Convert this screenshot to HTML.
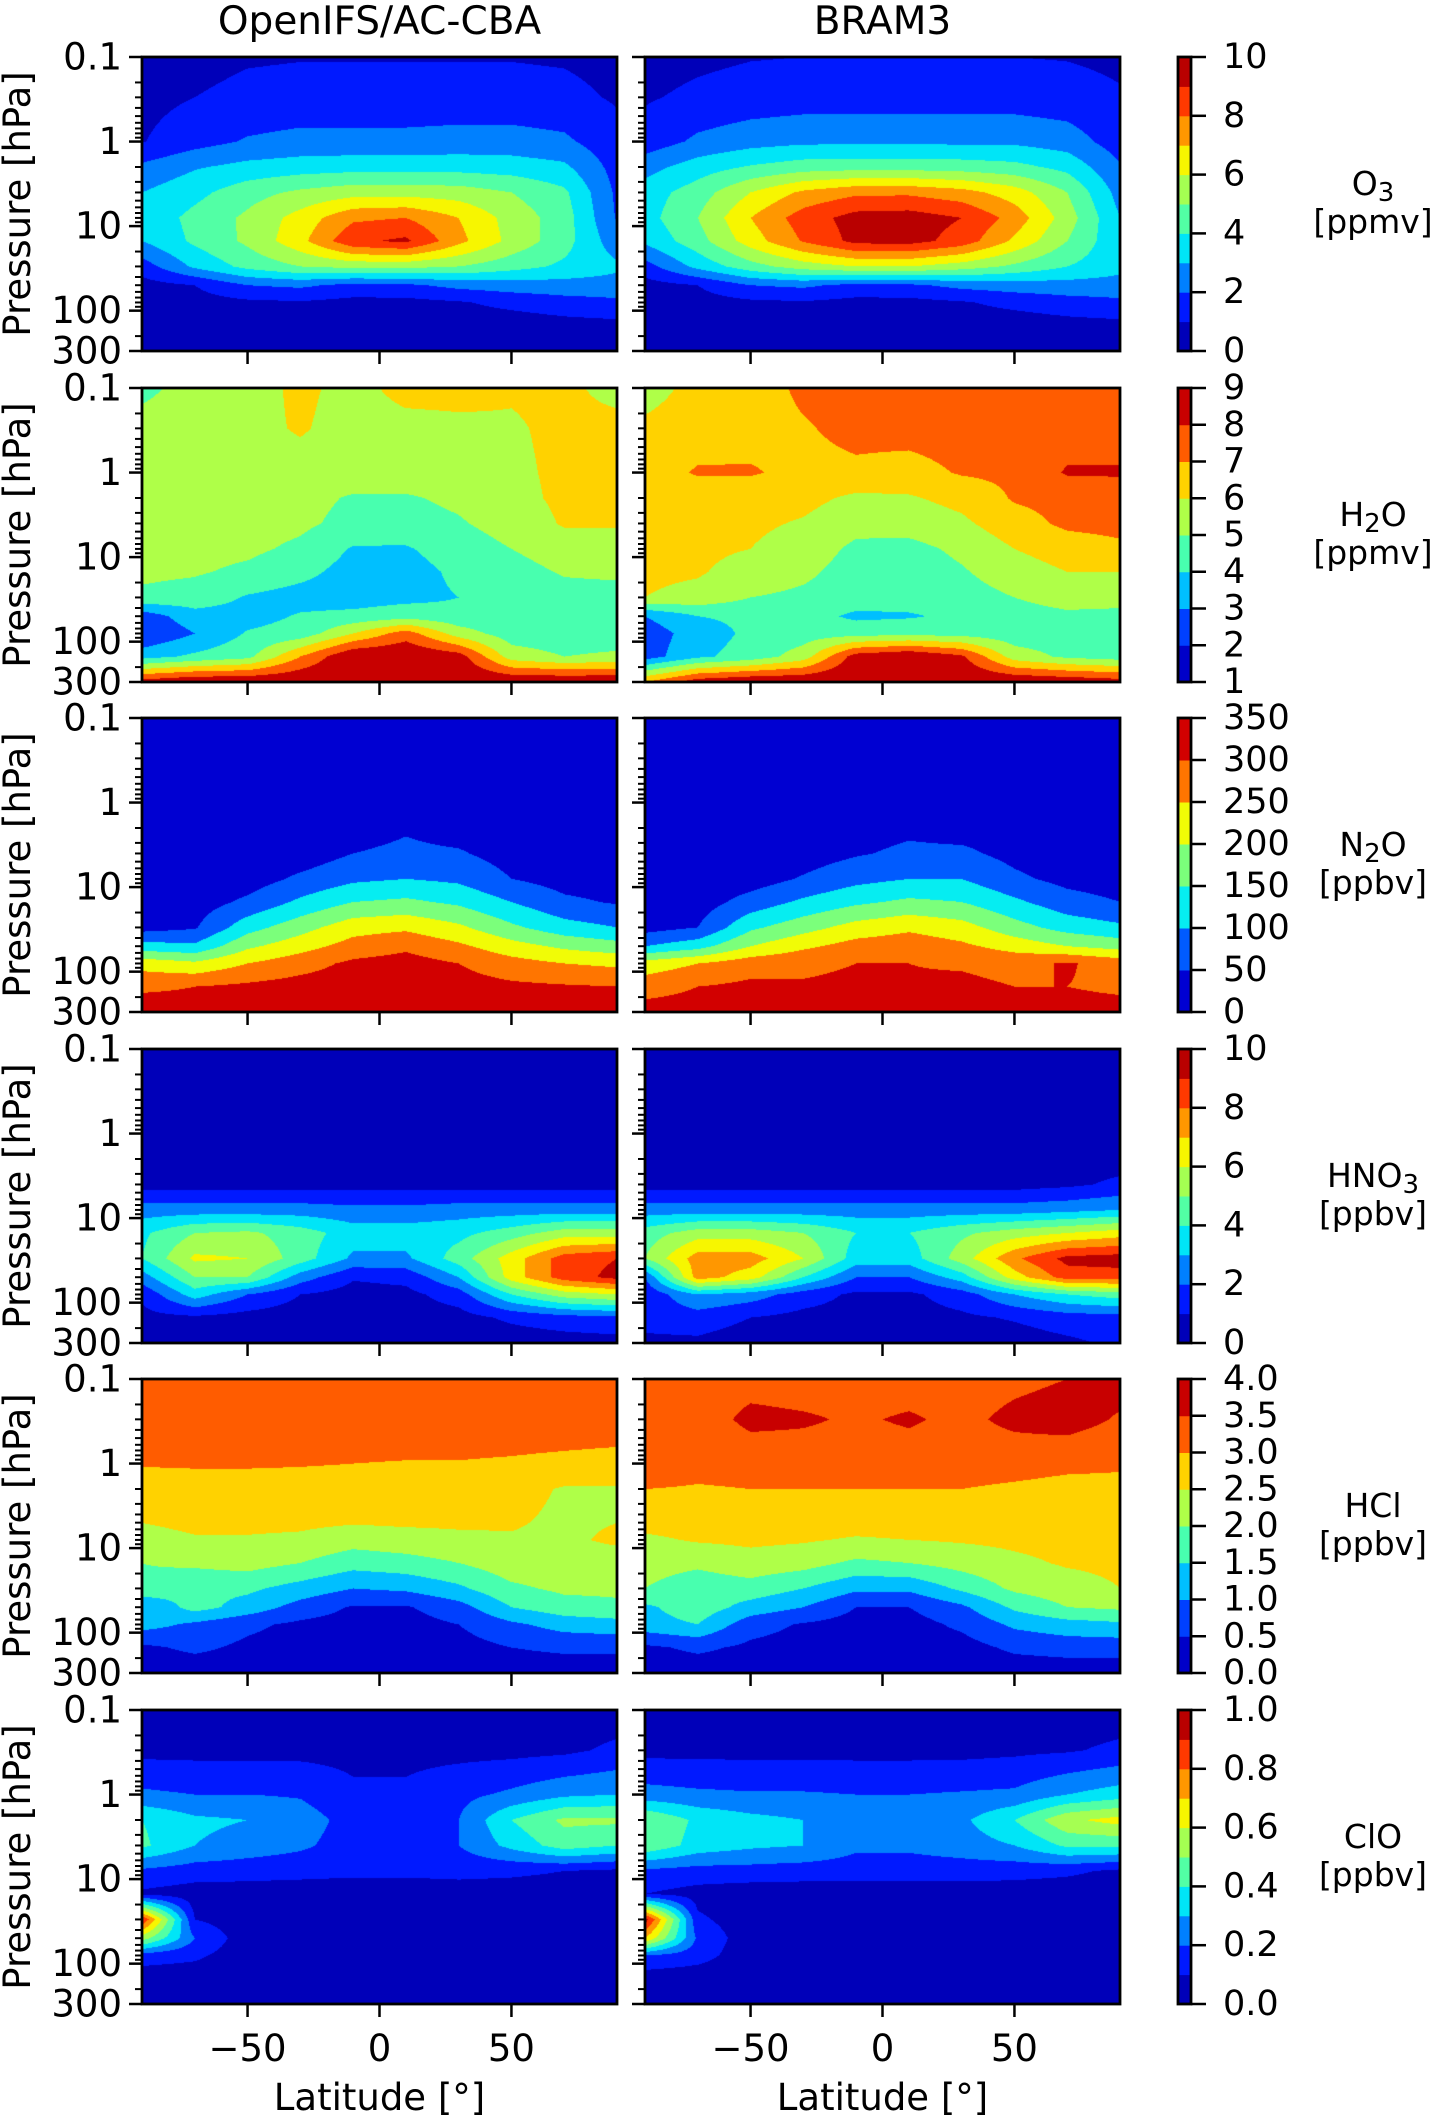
<!DOCTYPE html>
<html><head><meta charset="utf-8"><title>Zonal mean trace gases</title>
<style>
html,body{margin:0;padding:0;background:#fff;}
#wrap{position:relative;width:1434px;height:2118px;overflow:hidden;}
#fields{position:absolute;left:0;top:0;}
#axes{position:absolute;left:0;top:0;}
text{font-family:"DejaVu Sans","Liberation Sans",sans-serif;fill:#000;}
</style></head>
<body>
<div id="wrap">
<canvas id="fields" width="1434" height="2118"></canvas>
<svg id="axes" width="1434" height="2118" xmlns="http://www.w3.org/2000/svg"></svg>
</div>
<script>
// ---- grid categories ----
const lats = [-90,-70,-50,-30,-10,10,30,50,70,90];
const pressures = [0.1,0.3,1,2,4,8,15,30,50,80,150,300];
const columnTitles = ["OpenIFS/AC-CBA","BRAM3"];
const yTickLabels = ["0.1","1","10","100","300"];
const yTickValues = [0.1,1,10,100,300];
const xTickValues = [-50,0,50];
const xTickLabels = ["\u221250","0","50"];

// ---- O3 [ppmv] ----
const o3Levels = [0,1,2,3,4,5,6,7,8,9,10];
const o3Ticks = [0,2,4,6,8,10];
const o3Left = [
[0.5,0.7,0.9,0.95,0.95,0.95,0.95,0.95,0.9,0.7],
[0.7,1.0,1.25,1.35,1.35,1.35,1.35,1.35,1.25,0.9],
[0.95,1.6,2.1,2.3,2.3,2.3,2.4,2.4,2.2,1.3],
[2.2,2.9,3.3,3.5,3.6,3.6,3.6,3.5,3.2,1.6],
[3.0,3.7,4.6,5.2,5.6,5.6,5.5,5.0,4.2,1.8],
[3.3,4.3,5.2,6.4,7.8,8.0,7.0,5.6,4.5,1.9],
[3.0,4.2,5.2,6.7,8.8,9.2,7.3,5.7,4.4,2.4],
[1.5,3.2,4.3,5.0,5.3,5.3,5.0,4.4,3.8,3.2],
[0.6,1.0,2.0,2.2,1.7,1.8,2.3,2.5,2.6,2.6],
[0.5,0.6,0.8,0.9,0.7,0.7,0.9,1.3,1.6,1.8],
[0.4,0.4,0.4,0.4,0.4,0.4,0.4,0.4,0.6,0.7],
[0.3,0.3,0.3,0.3,0.3,0.3,0.3,0.3,0.3,0.3]];
const o3Right = [
[0.6,0.8,0.95,1.0,1.0,1.0,1.0,1.0,0.95,0.8],
[0.9,1.2,1.4,1.5,1.5,1.5,1.5,1.5,1.4,1.1],
[1.4,2.2,2.6,2.8,2.8,2.8,2.8,2.8,2.5,1.5],
[2.6,3.5,4.1,4.5,4.6,4.6,4.5,4.3,3.7,2.1],
[3.5,4.5,6.0,7.2,7.8,7.8,7.4,6.5,5.0,2.6],
[3.6,5.0,7.0,8.5,9.4,9.5,9.0,7.6,5.5,3.0],
[3.2,4.6,6.5,8.1,9.3,9.4,8.6,6.8,5.0,3.2],
[1.6,3.3,4.6,5.5,6.0,6.0,5.5,4.8,4.0,3.3],
[0.6,1.0,2.0,2.2,1.7,1.8,2.3,2.5,2.6,2.6],
[0.5,0.6,0.8,0.9,0.7,0.7,0.9,1.3,1.6,1.8],
[0.4,0.4,0.4,0.4,0.4,0.4,0.4,0.4,0.6,0.7],
[0.3,0.3,0.3,0.3,0.3,0.3,0.3,0.3,0.3,0.3]];

// ---- H2O [ppmv] ----
const h2oLevels = [1,2,3,4,5,6,7,8,9];
const h2oTicks = [1,2,3,4,5,6,7,8,9];
const h2oLeft = [
[4.8,5.3,5.6,6.2,5.7,6.3,6.3,6.1,6.2,5.7],
[5.3,5.4,5.7,6.1,5.6,5.7,5.8,5.9,6.2,6.3],
[5.4,5.5,5.6,5.6,5.5,5.5,5.6,5.8,6.2,6.3],
[5.4,5.5,5.5,5.3,4.9,4.9,5.2,5.7,6.2,6.3],
[5.4,5.4,5.4,5.2,4.7,4.6,4.9,5.4,6.1,6.1],
[5.3,5.3,5.2,4.8,3.9,3.9,4.5,5.0,5.5,5.5],
[5.2,5.1,4.8,4.3,3.6,3.6,4.2,4.6,5.1,5.2],
[4.8,4.6,3.9,3.6,3.5,3.7,4.0,4.4,4.6,4.6],
[2.4,3.6,3.6,4.1,4.3,4.6,4.3,4.3,4.4,4.3],
[2.0,3.0,4.1,4.4,6.0,7.5,5.5,4.5,4.4,4.4],
[3.6,4.2,4.7,7.0,9.0,9.0,8.5,5.5,5.0,5.2],
[8.5,9.0,9.0,9.0,9.0,9.0,9.0,9.0,9.0,9.0]];
const h2oRight = [
[5.6,6.3,6.5,7.2,7.5,7.5,7.5,7.5,7.5,7.4],
[6.2,6.5,6.6,6.9,7.3,7.4,7.5,7.5,7.5,7.5],
[6.5,7.1,7.1,6.7,6.8,6.6,7.1,7.2,8.1,8.1],
[6.4,6.4,6.4,6.3,5.8,5.9,6.3,7.1,7.3,7.5],
[6.4,6.3,6.2,5.9,5.3,5.4,5.8,6.6,7.2,7.3],
[6.3,6.2,6.0,5.5,4.8,4.7,5.2,6.0,6.5,6.8],
[6.2,6.1,5.6,5.2,4.6,4.5,4.9,5.5,6.0,6.0],
[6.0,5.7,5.0,4.8,4.5,4.4,4.6,5.0,5.4,5.4],
[3.0,4.0,4.2,4.4,3.8,3.9,4.2,4.6,4.8,4.7],
[2.4,3.5,4.2,4.5,4.6,4.7,4.6,4.4,4.5,4.6],
[2.5,3.8,4.4,5.5,8.5,9.0,8.2,5.5,4.8,4.5],
[7.0,8.6,9.0,9.0,9.0,9.0,9.0,9.0,8.8,8.5]];

// ---- N2O [ppbv] ----
const n2oLevels = [0,50,100,150,200,250,300,350];
const n2oTicks = [0,50,100,150,200,250,300,350];
const n2oLeft = [
[20,20,20,20,20,20,20,20,20,20],
[20,20,20,20,20,20,20,20,20,20],
[20,20,20,20,20,20,20,20,20,20],
[30,30,30,30,30,45,30,30,30,30],
[20,20,20,20,50,60,55,30,20,20],
[20,20,25,60,90,100,90,50,30,25],
[20,25,60,110,150,160,140,100,60,45],
[30,45,130,180,230,240,210,160,120,100],
[120,110,190,230,270,290,260,220,190,170],
[230,210,250,280,310,320,300,270,250,240],
[290,300,310,320,325,325,320,310,305,300],
[330,320,320,320,320,320,320,320,320,320]];
const n2oRight = [
[20,20,20,20,20,20,20,20,20,20],
[20,20,20,20,20,20,20,20,20,20],
[20,20,20,20,20,20,20,20,20,20],
[30,30,30,30,30,40,30,30,30,30],
[20,20,20,25,45,60,60,35,20,20],
[20,20,25,55,85,100,100,60,35,25],
[20,25,70,110,140,160,150,110,70,50],
[30,50,140,180,220,240,220,170,130,110],
[100,130,200,240,270,280,260,230,200,180],
[220,250,280,290,300,300,295,285,305,280],
[280,300,310,305,310,305,310,300,300,290],
[320,320,320,320,320,320,320,320,320,320]];

// ---- HNO3 [ppbv] ----
const hno3Levels = [0,1,2,3,4,5,6,7,8,9,10];
const hno3Ticks = [0,2,4,6,8,10];
const hno3Left = [
[0.5,0.5,0.5,0.5,0.5,0.5,0.5,0.5,0.5,0.5],
[0.5,0.5,0.5,0.5,0.5,0.5,0.5,0.5,0.5,0.5],
[0.5,0.5,0.5,0.5,0.5,0.5,0.5,0.5,0.5,0.5],
[0.5,0.5,0.5,0.5,0.5,0.5,0.5,0.5,0.5,0.5],
[0.6,0.6,0.6,0.6,0.6,0.6,0.6,0.6,0.6,0.6],
[2.5,2.5,2.5,2.5,2.3,2.3,2.5,2.5,2.5,2.5],
[3.8,5.0,5.2,4.5,3.5,3.5,3.7,4.5,5.5,5.5],
[4.0,6.2,6.0,4.5,2.8,2.8,4.5,6.5,8.5,9.0],
[2.5,5.0,5.0,2.5,1.1,1.3,3.0,6.5,8.5,9.3],
[1.2,3.5,2.0,1.0,0.6,0.7,1.5,4.0,5.5,6.0],
[0.7,0.8,0.6,0.5,0.5,0.5,0.6,1.2,1.6,1.8],
[0.4,0.4,0.4,0.4,0.4,0.4,0.4,0.4,0.5,0.6]];
const hno3Right = [
[0.5,0.5,0.5,0.5,0.5,0.5,0.5,0.5,0.5,0.5],
[0.5,0.5,0.5,0.5,0.5,0.5,0.5,0.5,0.5,0.5],
[0.5,0.5,0.5,0.5,0.5,0.5,0.5,0.5,0.5,0.5],
[0.5,0.5,0.5,0.5,0.5,0.5,0.5,0.5,0.5,0.6],
[0.6,0.6,0.6,0.6,0.6,0.6,0.6,0.6,0.8,1.2],
[2.5,2.5,2.5,2.5,2.5,2.5,2.5,2.5,2.7,3.0],
[4.5,5.5,5.5,5.0,4.0,4.0,4.8,5.5,6.0,6.5],
[5.0,7.5,7.5,6.0,3.5,3.5,5.5,7.8,9.3,9.5],
[2.0,7.5,6.5,4.0,2.0,2.0,3.5,6.5,8.5,8.5],
[1.2,3.0,2.5,1.5,0.8,0.8,1.5,3.0,4.0,4.5],
[1.3,1.5,1.0,0.7,0.6,0.6,0.8,1.1,1.5,1.6],
[0.8,0.8,0.5,0.4,0.4,0.4,0.4,0.5,0.8,1.2]];

// ---- HCl [ppbv] ----
const hclLevels = [0,0.5,1,1.5,2,2.5,3,3.5,4];
const hclTicks = [0,0.5,1,1.5,2,2.5,3,3.5,4];
const hclLeft = [
[3.3,3.3,3.3,3.3,3.3,3.3,3.3,3.3,3.3,3.3],
[3.25,3.25,3.25,3.25,3.25,3.25,3.25,3.25,3.25,3.25],
[3.03,3.05,3.05,3.03,3.0,2.98,2.98,2.95,2.9,2.85],
[2.8,2.8,2.8,2.8,2.8,2.8,2.8,2.7,2.45,2.45],
[2.6,2.7,2.7,2.7,2.7,2.7,2.65,2.6,2.4,2.45],
[2.3,2.45,2.45,2.4,2.2,2.3,2.4,2.45,2.4,2.6],
[2.0,2.1,2.2,2.0,1.7,1.8,2.0,2.3,2.3,2.2],
[1.9,1.6,1.6,1.3,1.0,1.1,1.4,1.9,2.1,2.1],
[1.0,1.7,1.3,0.8,0.45,0.45,0.8,1.5,1.8,1.9],
[1.2,0.9,0.6,0.4,0.3,0.3,0.5,0.9,1.2,1.3],
[0.4,0.6,0.4,0.3,0.3,0.3,0.3,0.5,0.6,0.6],
[0.2,0.2,0.2,0.2,0.2,0.2,0.2,0.2,0.2,0.2]];
const hclRight = [
[3.3,3.3,3.35,3.3,3.3,3.3,3.3,3.4,3.5,3.7],
[3.4,3.3,3.6,3.55,3.45,3.55,3.4,3.6,3.7,3.45],
[3.4,3.2,3.25,3.3,3.3,3.3,3.3,3.25,3.15,3.1],
[3.0,2.95,3.0,3.0,3.0,3.0,3.0,2.9,2.8,2.8],
[2.8,2.8,2.8,2.8,2.8,2.8,2.8,2.8,2.7,2.7],
[2.4,2.55,2.6,2.55,2.45,2.5,2.55,2.6,2.65,2.75],
[2.2,2.1,2.3,2.2,1.9,2.0,2.2,2.4,2.55,2.6],
[2.0,1.7,1.8,1.5,1.1,1.1,1.6,2.1,2.3,2.5],
[1.4,1.8,1.3,1.0,0.5,0.5,0.9,1.6,2.0,2.1],
[1.3,1.5,0.7,0.45,0.3,0.3,0.6,1.1,1.3,1.4],
[0.4,0.6,0.4,0.3,0.3,0.3,0.3,0.6,0.7,0.7],
[0.2,0.2,0.2,0.2,0.2,0.2,0.2,0.2,0.2,0.2]];

// ---- ClO [ppbv] ----
const cloLevels = [0,0.1,0.2,0.3,0.4,0.5,0.6,0.7,0.8,0.9,1.0];
const cloTicks = [0,0.2,0.4,0.6,0.8,1.0];
const cloLeft = [
[0.05,0.05,0.05,0.05,0.05,0.05,0.05,0.05,0.05,0.05],
[0.07,0.07,0.07,0.07,0.07,0.07,0.07,0.07,0.08,0.12],
[0.22,0.2,0.2,0.19,0.12,0.12,0.17,0.22,0.28,0.3],
[0.4,0.32,0.3,0.25,0.16,0.16,0.2,0.4,0.52,0.52],
[0.42,0.3,0.26,0.22,0.15,0.15,0.2,0.33,0.45,0.4],
[0.18,0.15,0.14,0.13,0.12,0.12,0.13,0.12,0.1,0.08],
[0.08,0.05,0.05,0.05,0.05,0.05,0.05,0.05,0.05,0.05],
[0.9,0.1,0.04,0.04,0.04,0.04,0.04,0.04,0.04,0.04],
[0.55,0.2,0.04,0.04,0.04,0.04,0.04,0.04,0.04,0.04],
[0.15,0.12,0.04,0.04,0.04,0.04,0.04,0.04,0.04,0.04],
[0.04,0.04,0.04,0.04,0.04,0.04,0.04,0.04,0.04,0.04],
[0.04,0.04,0.04,0.04,0.04,0.04,0.04,0.04,0.04,0.04]];
const cloRight = [
[0.05,0.05,0.05,0.05,0.05,0.05,0.05,0.05,0.05,0.05],
[0.07,0.07,0.07,0.07,0.07,0.07,0.07,0.08,0.09,0.12],
[0.24,0.22,0.21,0.21,0.2,0.2,0.21,0.22,0.3,0.35],
[0.5,0.38,0.33,0.3,0.24,0.24,0.28,0.4,0.58,0.64],
[0.48,0.36,0.32,0.3,0.22,0.22,0.25,0.3,0.42,0.42],
[0.18,0.16,0.16,0.15,0.15,0.15,0.15,0.14,0.12,0.08],
[0.1,0.06,0.04,0.04,0.04,0.04,0.04,0.04,0.04,0.04],
[0.95,0.12,0.04,0.04,0.04,0.04,0.04,0.04,0.04,0.04],
[0.7,0.18,0.04,0.04,0.04,0.04,0.04,0.04,0.04,0.04],
[0.2,0.14,0.04,0.04,0.04,0.04,0.04,0.04,0.04,0.04],
[0.04,0.04,0.04,0.04,0.04,0.04,0.04,0.04,0.04,0.04],
[0.04,0.04,0.04,0.04,0.04,0.04,0.04,0.04,0.04,0.04]];

const rowSpecs = [
 {key:"o3", sub:["O","3"], unit:"[ppmv]", left:o3Left, right:o3Right, levels:o3Levels, ticks:o3Ticks, fmt:0},
 {key:"h2o", sub:["H","2","O"], unit:"[ppmv]", left:h2oLeft, right:h2oRight, levels:h2oLevels, ticks:h2oTicks, fmt:0},
 {key:"n2o", sub:["N","2","O"], unit:"[ppbv]", left:n2oLeft, right:n2oRight, levels:n2oLevels, ticks:n2oTicks, fmt:0},
 {key:"hno3", sub:["HNO","3"], unit:"[ppbv]", left:hno3Left, right:hno3Right, levels:hno3Levels, ticks:hno3Ticks, fmt:0},
 {key:"hcl", sub:["HCl"], unit:"[ppbv]", left:hclLeft, right:hclRight, levels:hclLevels, ticks:hclTicks, fmt:1},
 {key:"clo", sub:["ClO"], unit:"[ppbv]", left:cloLeft, right:cloRight, levels:cloLevels, ticks:cloTicks, fmt:1}
];

// ---- layout ----
const panelX = [142, 645];
const panelW = 475;
const panelH = 294;
const rowTop0 = 57;
const rowPitch = 330.6;
const cbX = 1178, cbW = 13;
const LPMIN = -1, LPMAX = Math.log10(300);

function yScale(p, top){ return top + (Math.log10(p) - LPMIN)/(LPMAX-LPMIN)*panelH; }
function xScale(lat, left){ return left + (lat + 90)/180*panelW; }

function seg(pts, t){
  for (let i=1;i<pts.length;i++){
    if (t <= pts[i][0]){ const a=pts[i-1], b=pts[i]; return a[1] + (b[1]-a[1])*(t-a[0])/(b[0]-a[0]); }
  }
  return pts[pts.length-1][1];
}
function jet(t){
  const r = seg([[0,0],[0.35,0],[0.66,1],[0.89,1],[1,0.5]], t);
  const g = seg([[0,0],[0.125,0],[0.375,1],[0.64,1],[0.91,0],[1,0]], t);
  const b = seg([[0,0.5],[0.11,1],[0.34,1],[0.65,0],[1,0]], t);
  return [Math.round(r*255), Math.round(g*255), Math.round(b*255)];
}
function binColors(n){ const c=[]; for(let i=0;i<n;i++) c.push(jet((i+0.5)/n)); return c; }

const logP = pressures.map(p => Math.log10(p));
function sample(grid, lat, lp){
  let j = 0; while (j < lats.length-2 && lat > lats[j+1]) j++;
  let i = 0; while (i < logP.length-2 && lp > logP[i+1]) i++;
  let fx = (lat - lats[j])/(lats[j+1]-lats[j]); fx = Math.max(0, Math.min(1, fx));
  let fy = (lp - logP[i])/(logP[i+1]-logP[i]); fy = Math.max(0, Math.min(1, fy));
  const a = grid[i][j], b = grid[i][j+1], c = grid[i+1][j], d = grid[i+1][j+1];
  return (a*(1-fx)+b*fx)*(1-fy) + (c*(1-fx)+d*fx)*fy;
}

// ---- draw fields ----
const cv = document.getElementById('fields');
const ctx = cv.getContext('2d');
rowSpecs.forEach((spec, r) => {
  const top = Math.round(rowTop0 + r*rowPitch);
  const nb = spec.levels.length - 1;
  const cols = binColors(nb);
  [spec.left, spec.right].forEach((grid, c) => {
    const left = panelX[c];
    const img = ctx.createImageData(panelW, panelH);
    for (let y=0;y<panelH;y++){
      const lp = LPMIN + (y+0.5)/panelH*(LPMAX-LPMIN);
      for (let x=0;x<panelW;x++){
        const lat = -90 + (x+0.5)/panelW*180;
        const v = sample(grid, lat, lp);
        let k = 0; while (k < nb-1 && v >= spec.levels[k+1]) k++;
        const col = cols[k]; const o = (y*panelW + x)*4;
        img.data[o]=col[0]; img.data[o+1]=col[1]; img.data[o+2]=col[2]; img.data[o+3]=255;
      }
    }
    ctx.putImageData(img, left, top);
  });
});

// ---- svg axes ----
const NS = "http://www.w3.org/2000/svg";
const svg = document.getElementById('axes');
function mk(tag, attrs, parent){
  const e = document.createElementNS(NS, tag);
  for (const k in attrs) e.setAttribute(k, attrs[k]);
  (parent||svg).appendChild(e); return e;
}
const minorVals = [];
[0.1,1,10,100].forEach(d => { for (let m=2;m<=9;m++){ const v=d*m; if (v<300) minorVals.push(v); } });

// column titles
columnTitles.forEach((t, c) => {
  const e = mk('text', {x: panelX[c] + panelW/2, y: 34, 'text-anchor':'middle', 'font-size':39});
  e.textContent = t;
  
  
});

rowSpecs.forEach((spec, r) => {
  const top = Math.round(rowTop0 + r*rowPitch);
  const g = mk('g', {});
  
  
  [0,1].forEach(c => {
    const left = panelX[c];
    const pg = mk('g', {}, g);
    
    
    yTickValues.forEach((v, k) => {
      const y = yScale(v, top);
      const t = mk('line', {x1: left-13, x2: left, y1: y, y2: y, stroke:'#000', 'stroke-width':2.5}, pg);
      
      
      if (c===0){
        const lb = mk('text', {x: left-20, y: y, 'text-anchor':'end', 'dominant-baseline':'central', 'font-size':37}, pg);
        lb.textContent = yTickLabels[k];
        
        
      }
    });
    minorVals.forEach(v => {
      const y = yScale(v, top);
      const t = mk('line', {x1: left-7, x2: left, y1: y, y2: y, stroke:'#000', 'stroke-width':2}, pg);
      
      
    });
    xTickValues.forEach((v, k) => {
      const x = xScale(v, left);
      const t = mk('line', {x1: x, x2: x, y1: top+panelH, y2: top+panelH+13, stroke:'#000', 'stroke-width':2.5}, pg);
      
      
      if (r === rowSpecs.length-1){
        const lb = mk('text', {x: x, y: 2061, 'text-anchor':'middle', 'font-size':37}, pg);
        lb.textContent = xTickLabels[k];
        
        
      }
    });
    const fr = mk('rect', {x:left, y:top, width:panelW, height:panelH, fill:'none', stroke:'#000', 'stroke-width':2.8}, pg);
    
    
  });
  const yl = mk('text', {transform:`translate(30,${top+panelH/2}) rotate(-90)`, 'text-anchor':'middle', 'font-size':37}, g);
  yl.textContent = 'Pressure [hPa]';
  
  
  const cb = mk('g', {}, g);
  
  
  const nb = spec.levels.length - 1;
  const cols = binColors(nb);
  const lo = spec.levels[0], hi = spec.levels[nb];
  const cy = v => top + panelH - (v-lo)/(hi-lo)*panelH;
  for (let i=0;i<nb;i++){
    const y1 = cy(spec.levels[i+1]), y0 = cy(spec.levels[i]);
    const rc = mk('rect', {x: cbX, y: y1, width: cbW, height: y0-y1+0.5, fill:`rgb(${cols[i].join(',')})`}, cb);
    
    
  }
  const cf = mk('rect', {x: cbX, y: top, width: cbW, height: panelH, fill:'none', stroke:'#000', 'stroke-width':2.8}, cb);
  
  
  spec.ticks.forEach(v => {
    const y = cy(v);
    const t = mk('line', {x1: cbX+cbW, x2: cbX+cbW+15, y1:y, y2:y, stroke:'#000', 'stroke-width':2.5}, cb);
    
    
    const lb = mk('text', {x: 1223, y: y, 'dominant-baseline':'central', 'font-size':35}, cb);
    lb.textContent = spec.fmt ? v.toFixed(1) : String(v);
    
    
  });
  const mid = top + panelH/2;
  const sl = mk('text', {x: 1373, y: mid-9, 'text-anchor':'middle', 'font-size':33}, g);
  spec.sub.forEach((s, k) => {
    const ts = mk('tspan', {}, sl);
    ts.textContent = s;
    if (/^\d$/.test(s)){ ts.setAttribute('font-size','26'); ts.setAttribute('dy','6'); }
    else if (k>0){ ts.setAttribute('dy','-6'); }
  });
  
  
  const ul = mk('text', {x: 1373, y: mid+29, 'text-anchor':'middle', 'font-size':33}, g);
  ul.textContent = spec.unit;
  
  
});

panelX.forEach((left, c) => {
  const e = mk('text', {x: left + panelW/2, y: 2110, 'text-anchor':'middle', 'font-size':37});
  e.textContent = 'Latitude [\u00B0]';
  
  
});
</script>
</body></html>
